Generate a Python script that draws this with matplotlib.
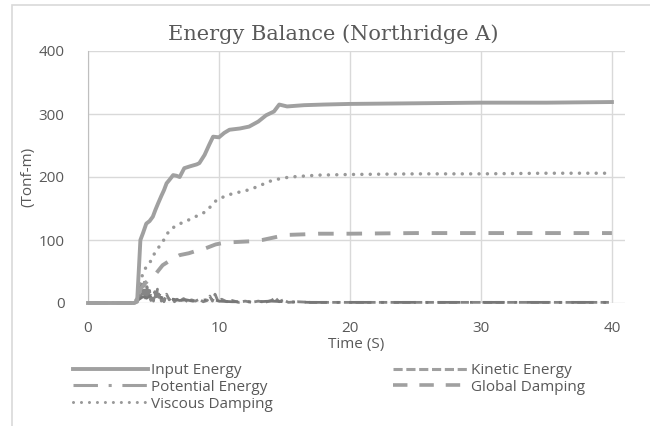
import numpy as np
import matplotlib
matplotlib.use('Agg')
import matplotlib.pyplot as plt
from matplotlib.patches import Rectangle
from matplotlib.lines import Line2D

## data (time in s, energy in Tonf-m)
t_input = [0, 3.5, 3.75, 3.9, 4.0, 4.2, 4.45, 4.7, 4.95, 5.15, 5.35, 5.6, 5.8, 6.0, 6.2, 6.5,
           6.75, 7.0, 7.35, 7.8, 8.3, 8.5, 8.9, 9.25, 9.55, 10.0, 10.4, 10.8, 11.6, 12.3, 13.0,
           13.6, 14.2, 14.6, 15.2, 16.5, 18, 20, 25, 30, 35, 40]
input_energy = [0, 0, 2, 60, 100, 111, 126, 130, 137, 148, 158, 170, 179, 190, 195, 203,
                202, 200, 214, 217, 220, 222, 235, 251, 264, 263, 270, 275, 277, 280, 288,
                298, 304, 315, 312, 314, 315, 316, 317, 318, 318, 319]

t_visc = [0, 3.6, 3.8, 4.0, 4.3, 4.7, 5.0, 5.45, 5.7, 6.2, 6.8, 7.5, 8.2, 9.0, 9.8, 10.5,
          11.1, 12.0, 12.6, 13.3, 14.1, 15.4, 17.6, 20, 25, 30, 35, 40]
viscous_damping = [0, 0, 15, 35, 53, 63, 76, 90, 97, 115, 124, 130, 137, 145, 163, 170,
                   174, 178, 182, 188, 195, 200, 203, 204, 205, 205, 206, 206]

t_glob = [0, 3.6, 3.8, 4.0, 4.3, 4.8, 5.2, 5.7, 6.3, 7.0, 7.7, 8.3, 9.0, 9.75, 10.5, 11.5,
          12.5, 13.3, 14.2, 15.1, 16.5, 17.6, 20, 25, 30, 35, 40]
global_damping = [0, 0, 10, 22, 30, 40, 47, 60, 68, 76, 79, 83, 87, 93, 96, 97,
                  98, 100, 104, 108, 109, 110, 110, 111, 111, 111, 111]

t_kin = [0, 3.5, 3.7, 3.8, 3.9, 4.0, 4.1, 4.2, 4.3, 4.4, 4.5, 4.6, 4.7, 4.8, 4.9, 5.0,
         5.1, 5.2, 5.3, 5.4, 5.5, 5.6, 5.7, 5.8, 5.9, 6.0, 6.2, 6.4, 6.6, 6.8, 7.0, 7.3,
         7.6, 7.9, 8.2, 8.5, 8.8, 9.1, 9.3, 9.5, 9.7, 9.9, 10.2, 10.6, 11.0, 11.5, 12.0, 12.5,
         13.0, 13.5, 14.0, 14.3, 14.6, 14.9, 15.3, 16, 17, 18, 20, 22, 25, 28, 31, 34, 37, 40]
kinetic_energy = [0, 0, 3, 12, 25, 8, 30, 14, 33, 5, 26, 10, 20, 4, 12, 3,
                  18, 6, 22, 9, 15, 3, 11, 2, 8, 14, 5, 9, 2, 6, 3, 7,
                  2, 5, 3, 6, 2, 4, 11, 3, 14, 4, 6, 2, 4, 1, 3, 1,
                  3, 1, 4, 8, 2, 5, 1, 2, 1, 1, 1, 1, 1, 1, 1, 1, 1, 1]

t_pot = [0, 3.6, 3.9, 4.2, 4.5, 4.8, 5.2, 5.6, 6.0, 6.5, 7.0, 7.5, 8.0, 8.5, 9.0, 9.5,
         10.0, 11, 12, 13, 14, 15, 17, 20, 25, 30, 35, 40]
potential_energy = [0, 0, 6, 10, 8, 12, 7, 9, 5, 6, 4, 5, 3, 4, 5, 6,
                    3, 2, 2, 2, 3, 2, 1, 1, 1, 1, 1, 1]

x_ticks = [0, 10, 20, 30, 40]
y_ticks = [0, 100, 200, 300, 400]

txt = '#595959'
gray = '#a0a0a0'
plt.rcParams['font.family'] = ['Open Sans', 'DejaVu Sans']

fig = plt.figure(figsize=(6.5, 4.26), dpi=100)
fig.patches.append(Rectangle((12/650, -0.02), 1.0, 1 - 5/426 + 0.02, transform=fig.transFigure,
                             fill=False, edgecolor='#d9d9d9', linewidth=1.2))
ax = fig.add_axes([88/650, (426-303)/426, (625-88)/650, (303-51)/426])

ax.plot(t_input, input_energy, color=gray, lw=2.8, solid_joinstyle='round', clip_on=False, zorder=5)
ax.plot(t_kin, kinetic_energy, color='#858585', lw=2, dashes=(3, 1.2), clip_on=False, zorder=4)
ax.plot(t_pot, potential_energy, color='#777777', lw=2, dashes=(8, 3.5, 1, 3.5), clip_on=False, zorder=4)
ax.plot(t_glob, global_damping, color=gray, lw=2.8, dashes=(4, 3.3), clip_on=False, zorder=4)
ax.plot(t_visc, viscous_damping, color='#999999', lw=2.5, dashes=(0.01, 2.4), dash_capstyle='round', zorder=4)

ax.set_xlim(0, 41)
ax.set_ylim(0, 400)
ax.set_xticks(x_ticks)
ax.set_yticks(y_ticks)
ax.grid(True, color='#d9d9d9', lw=1)
ax.set_axisbelow(True)
for s in ['top', 'right', 'bottom']:
    ax.spines[s].set_visible(False)
ax.spines['left'].set_color('#bfbfbf')
ax.tick_params(length=0, labelsize=11, labelcolor=txt)
ax.tick_params(axis='y', pad=17)
ax.tick_params(axis='x', pad=13)
ax.set_xlabel('Time (S)', fontsize=11, color=txt, labelpad=1)
ax.set_ylabel('(Tonf-m)', fontsize=11, color=txt, labelpad=2)

fig.text(333/650, 1 - 34/426, 'Energy Balance (Northridge A)', ha='center', va='center',
         fontsize=15, color=txt, family='DejaVu Serif')

## legend, two separate columns
h_in = Line2D([], [], color=gray, lw=2.8)
h_kin = Line2D([], [], color=gray, lw=2.2, dashes=(3, 1.2))
h_pot = Line2D([], [], color=gray, lw=2.2, dashes=(8, 3.5, 1, 3.5))
h_glob = Line2D([], [], color=gray, lw=2.6, dashes=(4, 3.3))
h_visc = Line2D([], [], color='#999999', lw=2.2, dashes=(0.01, 2.6), dash_capstyle='round')
leg_kw = dict(frameon=False, fontsize=11, handlelength=4.9, handletextpad=0.2,
              labelspacing=0.12, borderaxespad=0, borderpad=0, labelcolor=txt)
fig.legend([h_in, h_pot, h_visc], ['Input Energy', 'Potential Energy', 'Viscous Damping'],
           loc='upper left', bbox_to_anchor=(73/650, 1 - 363/426), **leg_kw)
fig.legend([h_kin, h_glob], ['Kinetic Energy', 'Global Damping'],
           loc='upper left', bbox_to_anchor=(393/650, 1 - 363/426), **leg_kw)

plt.savefig('out.png', dpi=100)
